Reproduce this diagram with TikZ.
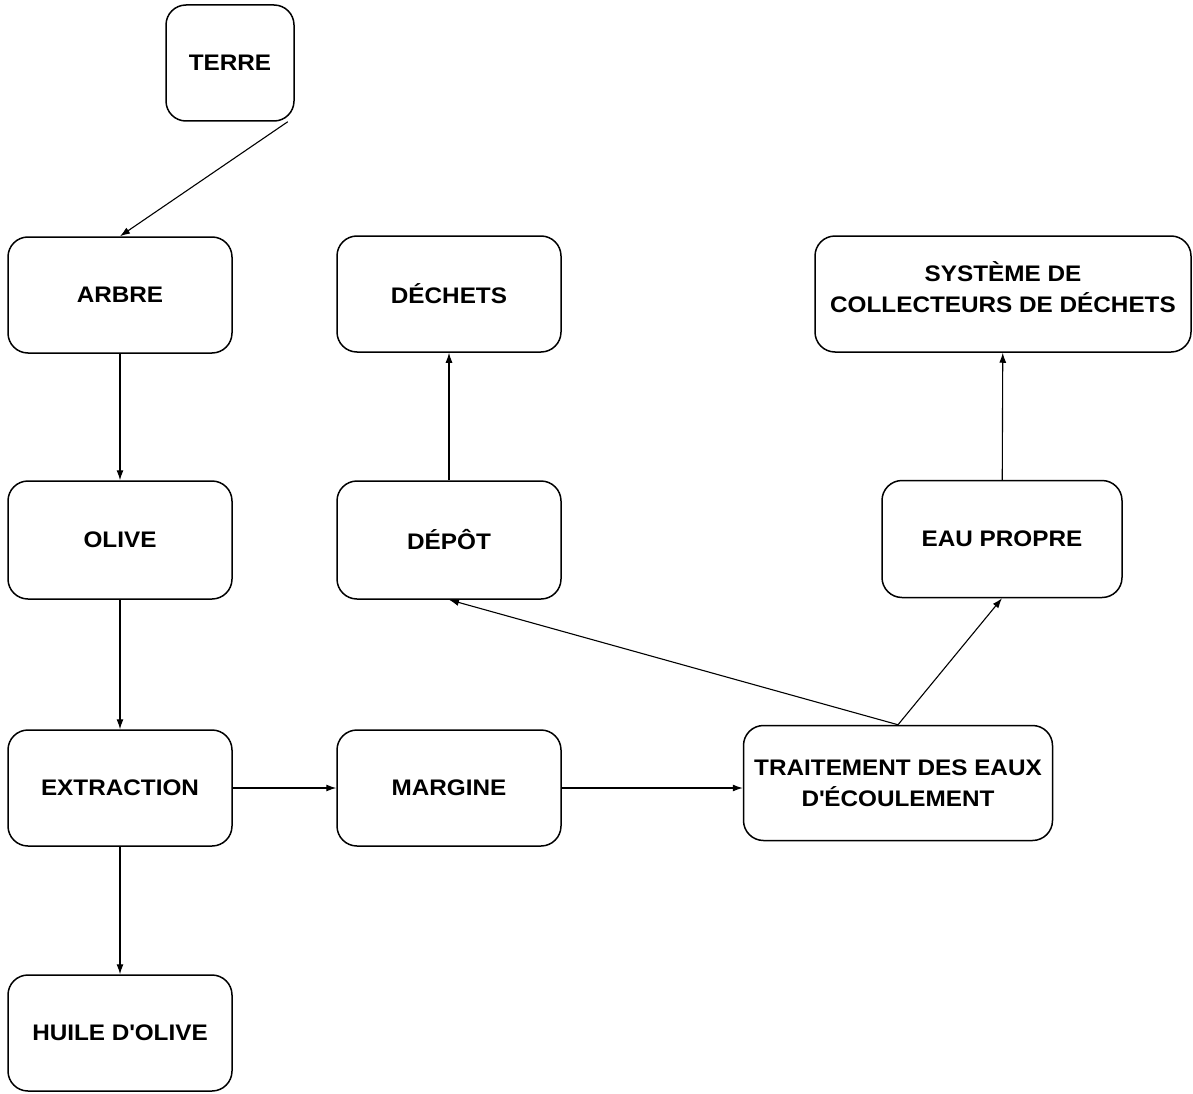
\documentclass[tikz,border=0pt]{standalone}
\usepackage{fontspec}
\setmainfont[FakeStretch=1.08]{Liberation Sans}
\usetikzlibrary{arrows.meta}
\begin{document}
\begin{tikzpicture}[x=1pt,y=-1pt,
  box/.style={draw, line width=1.5pt, rounded corners=20pt, align=center,
    font=\fontsize{22.5}{31}\selectfont\bfseries, inner sep=0pt},
  conn/.style={line width=1.1pt, -{Latex[length=10pt,width=7pt]}}]
\useasboundingbox (0,0) rectangle (1193,1094);
\node[box, minimum width=128pt, minimum height=116pt] (terre) at (230,63) {TERRE};
\node[box, minimum width=224pt, minimum height=116pt] (arbre) at (120,295) {ARBRE};
\node[box, minimum width=224pt, minimum height=116pt] (dechets) at (449,294) {DÉCHETS};
\node[box, minimum width=376pt, minimum height=116pt] (systeme) at (1003,294) {SYSTÈME DE\\COLLECTEURS DE DÉCHETS\rule[-14pt]{0pt}{0pt}};
\node[box, minimum width=224pt, minimum height=118pt] (olive) at (120,540) {OLIVE};
\node[box, minimum width=224pt, minimum height=118pt] (depot) at (449,540) {DÉPÔT};
\node[box, minimum width=240pt, minimum height=117pt] (eau) at (1002,539) {EAU PROPRE};
\node[box, minimum width=224pt, minimum height=116pt] (extraction) at (120,788) {EXTRACTION};
\node[box, minimum width=224pt, minimum height=116pt] (margine) at (449,788) {MARGINE};
\node[box, minimum width=309pt, minimum height=115pt] (traitement) at (898,783) {TRAITEMENT DES EAUX\\D\textquotesingle ÉCOULEMENT};
\node[box, minimum width=224pt, minimum height=116pt] (huile) at (120,1033) {HUILE D\textquotesingle OLIVE};
\coordinate (terreout) at ([xshift=-7pt]terre.south east);
\draw[conn] (terreout) -- (arbre.north);
\draw[conn] (arbre) -- (olive);
\draw[conn] (olive) -- (extraction);
\draw[conn] (extraction) -- (huile);
\draw[conn] (extraction.east) -- (margine.west);
\draw[conn] (margine.east) -- (margine.east -| traitement.west);
\draw[conn] (traitement.north) -- (depot.south);
\draw[conn] (traitement.north) -- (eau.south);
\draw[conn] (depot) -- (dechets);
\draw[conn] (eau) -- (systeme);
\end{tikzpicture}
\end{document}
